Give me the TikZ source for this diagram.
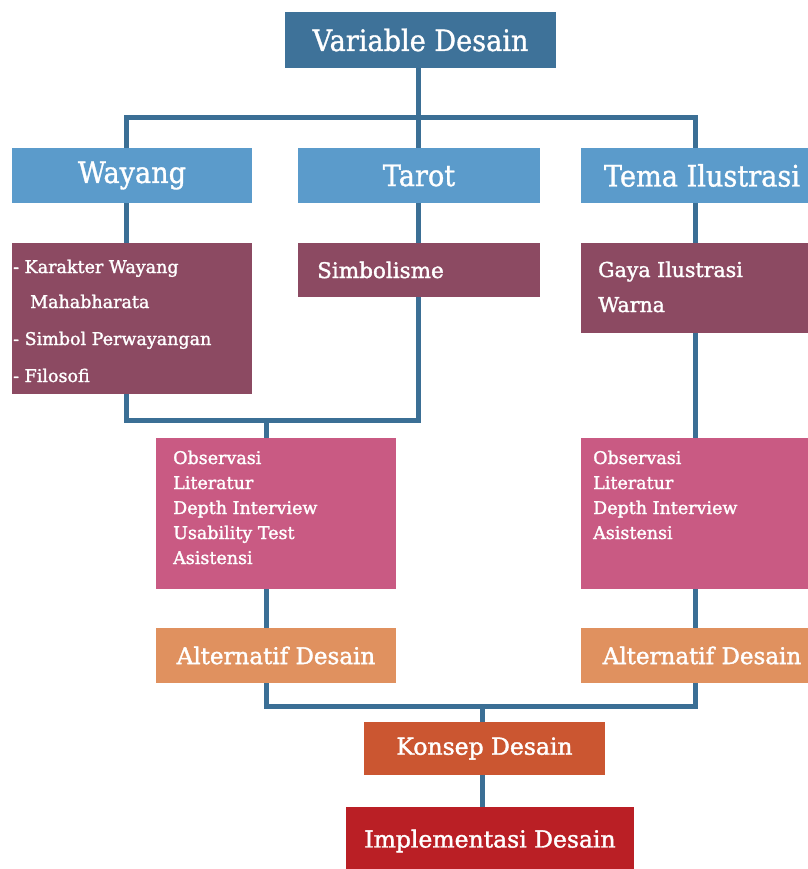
\documentclass[tikz,border=0pt]{standalone}
\usepackage{fontspec}
\setmainfont{DejaVu Serif}[FakeBold=1.6]
\newfontfamily\headfont{DejaVu Serif}[FakeStretch=0.92, FakeBold=1.1]
\definecolor{cLine}{HTML}{3B6F95}
\definecolor{cVD}{HTML}{3E7299}
\definecolor{cHead}{HTML}{5B9BCB}
\definecolor{cSub}{HTML}{8C4A62}
\definecolor{cObs}{HTML}{C95A83}
\definecolor{cAlt}{HTML}{E0915F}
\definecolor{cKon}{HTML}{CB5631}
\definecolor{cImp}{HTML}{BA1F25}
\begin{document}
\begin{tikzpicture}[x=1pt,y=-1pt,
  boxshape/.style={rectangle, inner sep=0pt, text=white},
  headtxt/.style={font=\headfont\fontsize{29.5}{34}\selectfont},
  bodytxt/.style={font=\fontsize{17.5}{21}\selectfont, text=white, inner sep=0pt, anchor=base west},
  conn/.style={draw=cLine, line width=5pt}]
\useasboundingbox[fill=white] (0,0) rectangle (807,869);

% boxes
\node[boxshape, headtxt, fill=cVD, minimum width=271pt, minimum height=56pt] (vd) at (420.5,40) {Variable Desain};
\node[boxshape, headtxt, fill=cHead, minimum width=240pt, minimum height=55pt] (way) at (132,175.5) {Wayang};
\node[boxshape, headtxt, fill=cHead, minimum width=242pt, minimum height=55pt] (tar) at (419,175.5) {Tarot};
\node[boxshape, headtxt, fill=cHead, minimum width=242pt, minimum height=55pt] (tem) at (702,175.5) {Tema Ilustrasi};

\node[boxshape, fill=cSub, minimum width=240pt, minimum height=151pt] (wsub) at (132,318.5) {};
\node[boxshape, fill=cSub, minimum width=242pt, minimum height=54pt] (simb) at (419,270) {};
\node[boxshape, fill=cSub, minimum width=242pt, minimum height=90pt] (gaya) at (702,288) {};

\node[boxshape, fill=cObs, minimum width=240pt, minimum height=151pt] (obsL) at (276,513.5) {};
\node[boxshape, fill=cObs, minimum width=242pt, minimum height=151pt] (obsR) at (702,513.5) {};

\node[boxshape, font=\fontsize{23}{27}\selectfont, fill=cAlt, minimum width=240pt, minimum height=55pt] (altL) at (276,655.5) {Alternatif Desain};
\node[boxshape, font=\fontsize{23}{27}\selectfont, fill=cAlt, minimum width=242pt, minimum height=55pt] (altR) at (702,655.5) {Alternatif Desain};

\node[boxshape, font=\fontsize{23.5}{27}\selectfont, fill=cKon, minimum width=241pt, minimum height=53pt] (kon) at (484.5,748.5) {Konsep Desain};
\node[boxshape, font=\fontsize{23.5}{27}\selectfont, fill=cImp, minimum width=288pt, minimum height=68pt] (imp) at (490,841) {Implementasi Desain};

% texts inside boxes
\node[bodytxt] (w1) at (13,273) {- Karakter Wayang};
\node[bodytxt] (w2) at (30,308) {Mahabharata};
\node[bodytxt] (w3) at (13,345) {- Simbol Perwayangan};
\node[bodytxt] (w4) at (13,382) {- Filosofi};

\node[bodytxt, font=\fontsize{21.5}{25}\selectfont] (s1) at (317,278) {Simbolisme};

\node[bodytxt, font=\fontsize{20.5}{24}\selectfont] (g1) at (598,277) {Gaya Ilustrasi};
\node[bodytxt, font=\fontsize{20.5}{24}\selectfont] (g2) at (598,312) {Warna};

\node[bodytxt] (ol1) at (173,464) {Observasi};
\node[bodytxt] (ol2) at (173,489) {Literatur};
\node[bodytxt] (ol3) at (173,514) {Depth Interview};
\node[bodytxt] (ol4) at (173,539) {Usability Test};
\node[bodytxt] (ol5) at (173,564) {Asistensi};

\node[bodytxt] (or1) at (593,464) {Observasi};
\node[bodytxt] (or2) at (593,489) {Literatur};
\node[bodytxt] (or3) at (593,514) {Depth Interview};
\node[bodytxt] (or4) at (593,539) {Asistensi};

% junctions
\coordinate (jt) at (418,118);
\coordinate (jtl) at (126,118);
\coordinate (jtr) at (695,118);
\coordinate (jl1) at (126,420);
\coordinate (jl2) at (418,420);
\coordinate (jl3) at (266,420);
\coordinate (jb1) at (266,706);
\coordinate (jb2) at (695,706);
\coordinate (jb3) at (482,706);

% connectors
\draw[conn] (jt |- vd.south) -- (jt);
\draw[conn] (jtl |- way.north) -- (jtl) -- (jtr) -- (jtr |- tem.north);
\draw[conn] (jt) -- (jt |- tar.north);
\draw[conn] (jtl |- way.south) -- (jtl |- wsub.north);
\draw[conn] (jt |- tar.south) -- (jt |- simb.north);
\draw[conn] (jtr |- tem.south) -- (jtr |- gaya.north);
\draw[conn] (jl1 |- wsub.south) -- (jl1) -- (jl2) -- (jl2 |- simb.south);
\draw[conn] (jl3) -- (jl3 |- obsL.north);
\draw[conn] (jtr |- gaya.south) -- (jtr |- obsR.north);
\draw[conn] (jl3 |- obsL.south) -- (jl3 |- altL.north);
\draw[conn] (jtr |- obsR.south) -- (jtr |- altR.north);
\draw[conn] (jb1 |- altL.south) -- (jb1) -- (jb2) -- (jb2 |- altR.south);
\draw[conn] (jb3) -- (jb3 |- kon.north);
\draw[conn] (jb3 |- kon.south) -- (jb3 |- imp.north);
\end{tikzpicture}
\end{document}
